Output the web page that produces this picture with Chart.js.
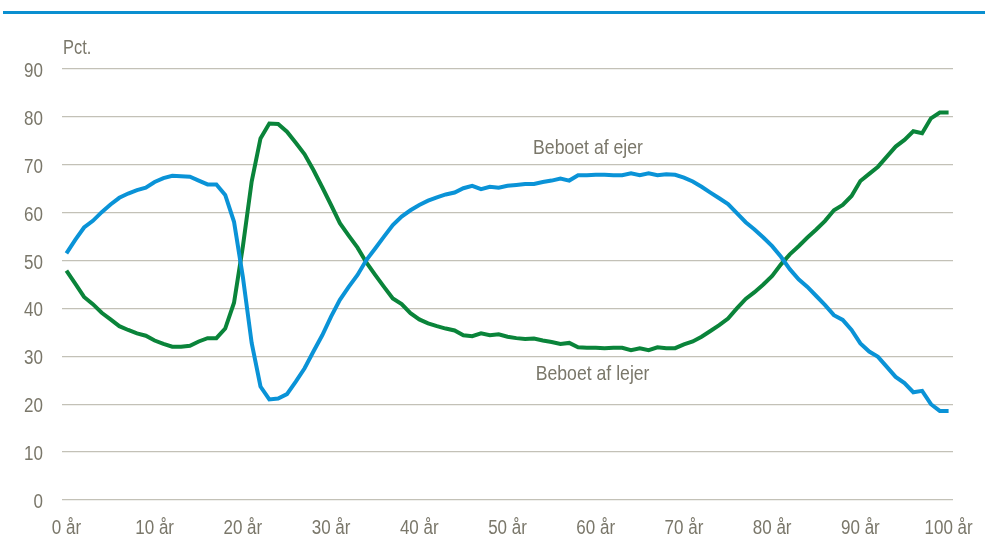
<!DOCTYPE html>
<html lang="da">
<head>
<meta charset="utf-8">
<title>Beboet af ejer / lejer</title>
<script src="https://cdn.jsdelivr.net/npm/chart.js@4/dist/chart.umd.min.js"></script>
<style>
  html, body { margin: 0; padding: 0; background: #fff; }
  .wrap { position: relative; width: 985px; height: 541px; }
  .rule { position: absolute; left: 3px; right: 0; top: 11px; height: 3px; background: #0a8fd0; }
</style>
</head>
<body>
<div class="wrap">
  <div class="rule"></div>
  <canvas id="ageChart"></canvas>
</div>
<script>
// Alder 0..100 år
const years = [];
for (let i = 0; i <= 100; i++) years.push(i);

// Andel beboet af ejer (pct.)
const ejer = [
  51.5, 54.3, 56.9, 58.3, 60.1, 61.7, 63.1, 64.0, 64.7, 65.2,
  66.4, 67.2, 67.7, 67.6, 67.5, 66.7, 65.9, 65.9, 63.7, 58.1,
  46.6, 32.8, 23.7, 21.0, 21.2, 22.1, 24.7, 27.5, 31.0, 34.4,
  38.3, 41.8, 44.5, 47.0, 50.1, 52.5, 55.0, 57.4, 59.2, 60.5,
  61.6, 62.5, 63.2, 63.8, 64.2, 65.1, 65.6, 64.9, 65.4, 65.2,
  65.6, 65.8, 66.0, 66.0, 66.4, 66.7, 67.1, 66.7, 67.8, 67.8,
  67.9, 67.9, 67.8, 67.8, 68.2, 67.8, 68.2, 67.8, 68.0, 67.9,
  67.3, 66.5, 65.4, 64.2, 63.0, 61.8, 59.9, 58.0, 56.5, 54.8,
  53.0, 50.8, 48.2, 46.1, 44.5, 42.6, 40.7, 38.6, 37.6, 35.5,
  32.7, 31.0, 29.9, 27.8, 25.7, 24.4, 22.5, 22.8, 20.0, 18.6,
  18.6
];

// Andel beboet af lejer (pct.)
const lejer = [
  47.9, 45.2, 42.4, 40.9, 39.1, 37.7, 36.3, 35.5, 34.8, 34.3,
  33.3, 32.6, 32.0, 32.0, 32.2, 33.1, 33.8, 33.8, 35.8, 41.2,
  52.9, 66.5, 75.5, 78.6, 78.5, 76.9, 74.6, 72.2, 68.9, 65.3,
  61.6, 57.8, 55.2, 52.7, 49.6, 47.0, 44.5, 42.1, 40.9, 39.0,
  37.7, 36.9, 36.3, 35.8, 35.4, 34.4, 34.2, 34.8, 34.4, 34.6,
  34.1, 33.8, 33.6, 33.7, 33.3, 33.0, 32.6, 32.8, 31.9, 31.8,
  31.8, 31.7, 31.8, 31.8, 31.3, 31.7, 31.3, 31.9, 31.7, 31.7,
  32.5, 33.1, 34.1, 35.3, 36.5, 37.9, 40.0, 42.0, 43.4, 45.0,
  46.8, 49.2, 51.3, 53.0, 54.8, 56.5, 58.3, 60.5, 61.6, 63.5,
  66.6, 68.1, 69.6, 71.7, 73.8, 75.2, 77.0, 76.6, 79.7, 80.9,
  80.9
];

const yTicks = [0, 10, 20, 30, 40, 50, 60, 70, 80, 90];
const xTicks = [0, 10, 20, 30, 40, 50, 60, 70, 80, 90, 100];

const FONT = "'Liberation Sans', Arial, sans-serif";
const TEXT = '#7a776a';

// smal tekst (Arial Narrow-agtig) ved at presse Liberation Sans vandret
function narrowText(ctx, text, x, y, align, size, squeeze) {
  ctx.save();
  ctx.translate(x, y);
  ctx.scale(squeeze, 1);
  ctx.font = size + 'px ' + FONT;
  ctx.textAlign = align;
  ctx.textBaseline = 'alphabetic';
  ctx.fillText(text, 0, 0);
  ctx.restore();
}

// akse-tekster, "Pct." og de to linjenavne
const labelsPlugin = {
  id: 'inlineLabels',
  afterDraw(chart) {
    const { ctx, scales, chartArea } = chart;
    const x = scales.x, y = scales.y;
    ctx.save();
    ctx.fillStyle = TEXT;

    yTicks.forEach(v => {
      narrowText(ctx, String(v), 43, y.getPixelForValue(v) + 8, 'right', 20, 0.85);
    });
    xTicks.forEach(v => {
      narrowText(ctx, v + ' år', x.getPixelForValue(v), 534, 'center', 20, 0.85);
    });

    narrowText(ctx, 'Pct.', chartArea.left + 1, 54, 'left', 20, 0.82);
    narrowText(ctx, 'Beboet af ejer', x.getPixelForValue(52.9), y.getPixelForValue(72.2), 'left', 21, 0.84);
    narrowText(ctx, 'Beboet af lejer', x.getPixelForValue(53.2), y.getPixelForValue(25.1), 'left', 21, 0.84);
    ctx.restore();
  }
};

const ctx = document.getElementById('ageChart');

new Chart(ctx, {
  type: 'line',
  data: {
    labels: years,
    datasets: [
      {
        label: 'Beboet af ejer',
        data: ejer,
        borderColor: '#0a93d7',
        borderWidth: 4,
        pointRadius: 0,
        tension: 0
      },
      {
        label: 'Beboet af lejer',
        data: lejer,
        borderColor: '#0a843a',
        borderWidth: 4,
        pointRadius: 0,
        tension: 0
      }
    ]
  },
  options: {
    responsive: true,
    maintainAspectRatio: false,
    animation: false,
    layout: { padding: { top: 69, right: 32, left: 0, bottom: 0 } },
    plugins: {
      legend: { display: false },
      tooltip: { enabled: false }
    },
    scales: {
      x: {
        type: 'linear',
        min: -0.5,
        max: 100.5,
        grid: { display: false, drawTicks: false },
        border: { display: false },
        ticks: { display: false },
        afterFit: s => { s.height = 41; }
      },
      y: {
        min: 0,
        max: 90,
        grid: { color: '#c3c1b7', lineWidth: 1.3, drawTicks: false },
        border: { display: false },
        afterBuildTicks: s => { s.ticks = yTicks.map(v => ({ value: v })); },
        ticks: { display: false },
        afterFit: s => { s.width = 62; }
      }
    }
  },
  plugins: [labelsPlugin]
});
</script>
</body>
</html>
